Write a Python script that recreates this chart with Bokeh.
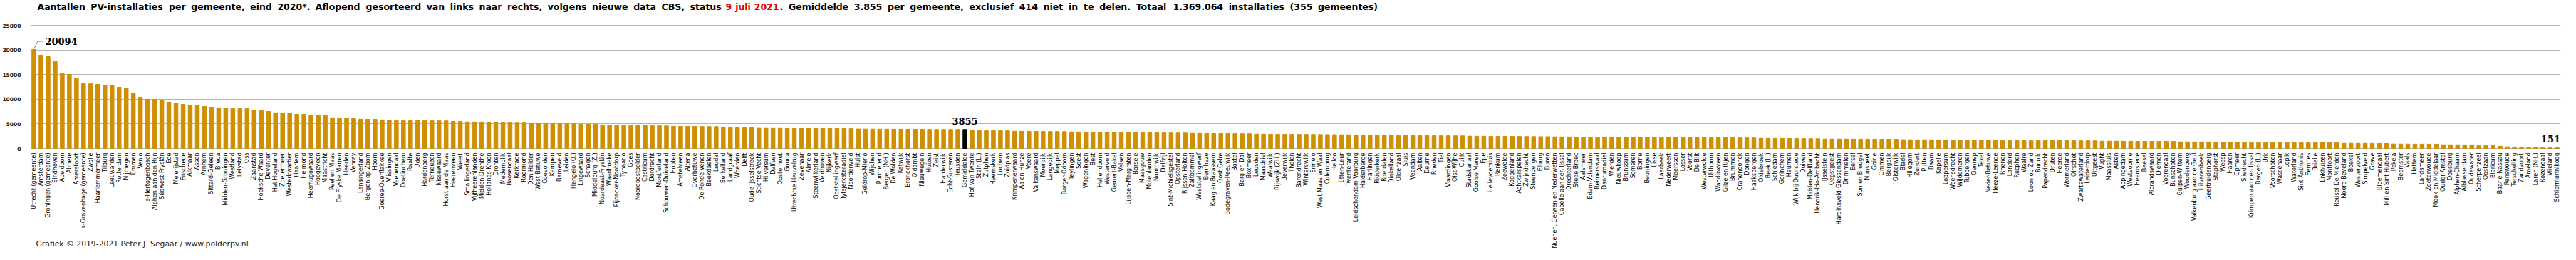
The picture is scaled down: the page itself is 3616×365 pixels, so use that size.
import math
from bokeh.plotting import figure
from bokeh.models import FactorRange, Range1d, FixedTicker, Label, ColumnDataSource
from bokeh.embed import file_html
from bokeh.resources import INLINE
from bokeh.core.properties import value

names = [
    "Utrecht (gemeente)", "Amsterdam", "Groningen (gemeente)", "Eindhoven", "Apeldoorn", "Almere",
    "Amersfoort", "'s-Gravenhage (gemeente)", "Zwolle", "Haarlemmermeer", "Tilburg", "Leeuwarden",
    "Rotterdam", "Nijmegen", "Emmen", "Venlo", "'s-Hertogenbosch", "Alphen aan den Rijn",
    "Súdwest-Fryslân", "Ede", "Meierijstad", "Enschede", "Alkmaar", "Assen", "Arnhem",
    "Sittard-Geleen", "Breda", "Midden-Groningen", "Westland", "Lelystad", "Oss", "Zaanstad",
    "Hoeksche Waard", "Deventer", "Het Hogeland", "Zoetermeer", "Westerkwartier", "Haarlem",
    "Helmond", "Heerhugowaard", "Hoogeveen", "Maastricht", "Peel en Maas", "De Fryske Marren",
    "Heerlen", "Venray", "Lansingerland", "Bergen op Zoom", "Hoorn", "Goeree-Overflakkee",
    "Vlissingen", "Veenendaal", "Doetinchem", "Raalte", "Uden", "Hardenberg", "Terneuzen",
    "Nissewaard", "Horst aan de Maas", "Heerenveen", "Weert", "Smallingerland", "Vijfheerenlanden",
    "Midden-Drenthe", "Hollands Kroon", "Dronten", "Medemblik", "Roosendaal", "Kerkrade",
    "Roermond", "Den Helder", "West Betuwe", "Coevorden", "Kampen", "Barneveld", "Leiden",
    "Hengelo (O.)", "Lingewaard", "Schagen", "Middelburg (Z.)", "Noardeast-Fryslân", "Waadhoeke",
    "Pijnacker-Nootdorp", "Tynaarlo", "Goes", "Noordoostpolder", "Castricum", "Dordrecht",
    "Montferland", "Schouwen-Duiveland", "Houten", "Amstelveen", "Altena", "Overbetuwe",
    "De Ronde Venen", "Beekdaelen", "Leudal", "Berkelland", "Landgraaf", "Woerden", "Delft",
    "Oude IJsselstreek", "Stichtse Vecht", "Hilversum", "Dalfsen", "Oosterhout", "Gouda",
    "Utrechtse Heuvelrug", "Zevenaar", "Almelo", "Steenwijkerland", "Veldhoven", "Nijkerk",
    "Ooststellingwerf", "Tytsjerksteradiel", "Noordenveld", "Hulst", "Geldrop-Mierlo", "Wijchen",
    "Purmerend", "Bergen (NH.)", "De Wolden", "Katwijk", "Bronckhorst", "Oldambt", "Nieuwegein",
    "Huizen", "Zeist", "Harderwijk", "Echt-Susteren", "Heusden", "Gemiddelde", "Hof van Twente",
    "Stein (L.)", "Zutphen", "Heemskerk", "Lochem", "Zuidplas", "Krimpenerwaard", "Aa en Hunze",
    "Veere", "Valkenswaard", "Moerdijk", "Langedijk", "Meppel", "Borger-Odoorn", "Teylingen",
    "Soest", "Wageningen", "Best", "Hellendoorn", "Westerveld", "Gemert-Bakel", "Velsen",
    "Eijsden-Margraten", "Borsele", "Maasgouw", "Molenlanden", "Noordwijk", "Delfzijl",
    "Sint-Michielsgestel", "Opsterland", "Rijssen-Holten", "Zaltbommel", "Weststellingwerf",
    "Bernheze", "Kaag en Braassem", "Oost Gelre", "Bodegraven-Reeuwijk", "Boxtel", "Berg en Dal",
    "Boxmeer", "Leusden", "Maasdriel", "Waalwijk", "Rijswijk (ZH.)", "Beverwijk", "Tholen",
    "Barendrecht", "Winterswijk", "Ermelo", "West Maas en Waal", "Culemborg", "Heiloo",
    "Etten-Leur", "Twenterand", "Leidschendam-Voorburg", "Halderberge", "Harlingen", "Ridderkerk",
    "Roerdalen", "Dinkelland", "Oldenzaal", "Sluis", "Veendam", "Aalten", "Deurne", "Rheden",
    "Tiel", "Vlaardingen", "Olst-Wijhe", "Cuijk", "Stadskanaal", "Gooise Meren", "Epe",
    "Hellevoetsluis", "Renkum", "Zeewolde", "Koggenland", "Achtkarspelen", "Zwijndrecht",
    "Steenbergen", "Elburg", "Buren", "Nuenen, Gerwen en Nederwetten", "Capelle aan den IJssel",
    "Drechterland", "Stede Broec", "Aalsmeer", "Edam-Volendam", "Reimerswaal", "Dantumadiel",
    "Wierden", "Nieuwkoop", "Brunssum", "Someren", "Borne", "Beuningen", "Lisse", "Laarbeek",
    "Nederweert", "Meerssen", "Losser", "Voorst", "De Bilt", "Westerwolde", "Uithoorn",
    "Waddinxveen", "Gilze en Rijen", "Brummen", "Cranendonck", "Dongen", "Haaksbergen",
    "Oldebroek", "Beek (L.)", "Schiedam", "Gorinchem", "Heumen", "Wijk bij Duurstede", "Duiven",
    "Midden-Delfland", "Hendrik-Ido-Ambacht", "IJsselstein", "Oegstgeest",
    "Hardinxveld-Giessendam", "Drimmelen", "Eersel", "Son en Breugel", "Nunspeet", "Goirle",
    "Ommen", "Bergeijk", "Oisterwijk", "Bladel", "Hillegom", "Zundert", "Putten", "Baarn",
    "Kapelle", "Loppersum", "Woensdrecht", "Wijdemeren", "Tubbergen", "Gennep", "Texel",
    "Neder-Betuwe", "Heeze-Leende", "Rhenen", "Landerd", "Rucphen", "Waalre", "Loon op Zand",
    "Bunnik", "Papendrecht", "Druten", "Heerde", "Wormerland", "Oirschot", "Zwartewaterland",
    "Leiderdorp", "Uitgeest", "Vught", "Maassluis", "Asten", "Appingedam", "Westvoorne",
    "Heemstede", "Beesel", "Albrandswaard", "Diemen", "Voerendaal", "Bunschoten", "Gulpen-Wittem",
    "Woudenberg", "Valkenburg aan de Geul", "Hilvarenbeek", "Geertruidenberg", "Staphorst",
    "Weesp", "Haaren", "Opmeer", "Sliedrecht", "Krimpen aan den IJssel", "Bergen (L.)", "Urk",
    "Voorschoten", "Wassenaar", "Lopik", "Waterland", "Sint Anthonis", "Eemnes", "Brielle",
    "Enkhuizen", "Montfoort", "Reusel-De Mierden", "Noord-Beveland", "Boekel", "Westervoort",
    "Simpelveld", "Grave", "Bloemendaal", "Mill en Sint Hubert", "Pekela", "Beemster", "Vaals",
    "Hattem", "Landsmeer", "Zoeterwoude", "Mook en Middelaar", "Ouder-Amstel", "Doesburg",
    "Alphen-Chaam", "Alblasserdam", "Oudewater", "Scherpenzeel", "Oostzaan", "Blaricum",
    "Baarle-Nassau", "Renswoude", "Terschelling", "Zandvoort", "Ameland", "Laren (NH.)",
    "Rozendaal", "Vlieland", "Schiermonnikoog",
]

counts = [
    20094, 18930, 18640, 17630, 15170, 15030, 14300, 13180, 13130, 13005, 12860, 12716,
    12427, 12280, 11130, 10400, 9990, 9960, 9826, 9390, 9250, 8960, 8815, 8670, 8525,
    8380, 8260, 8230, 8120, 8100, 8080, 7800, 7660, 7515, 7250, 7230, 7210, 6950,
    6930, 6800, 6780, 6650, 6230, 6210, 6190, 6070, 5950, 5930, 5910, 5790,
    5770, 5670, 5660, 5650, 5640, 5630, 5620, 5610, 5600, 5500, 5480, 5390, 5380,
    5370, 5360, 5350, 5340, 5330, 5320, 5310, 5220, 5200, 5180, 5080, 5070, 5060,
    5050, 4930, 4910, 4900, 4780, 4760, 4660, 4650, 4640, 4630, 4620, 4610,
    4600, 4590, 4500, 4490, 4480, 4470, 4460, 4450, 4440, 4360, 4350, 4340, 4330,
    4320, 4240, 4230, 4220, 4210, 4200, 4190, 4180, 4170, 4160, 4150, 4140,
    4070, 4050, 4030, 3960, 3950, 3940, 3930, 3920, 3910, 3900, 3895, 3890, 3885,
    3880, 3875, 3870, 3865, 3860, 3855, 3640, 3630, 3620, 3610, 3600, 3590, 3500, 3490,
    3480, 3470, 3460, 3450, 3440, 3430, 3350, 3340, 3330, 3320, 3310, 3300, 3290, 3280,
    3210, 3200, 3190, 3180, 3170, 3160, 3150, 3140, 3130, 3070, 3060,
    3050, 3040, 3030, 3020, 3010, 3000, 2990, 2930, 2920, 2910, 2900, 2890, 2880,
    2870, 2860, 2850, 2840, 2830, 2820, 2780, 2770, 2760, 2750, 2740, 2730,
    2720, 2710, 2640, 2630, 2620, 2610, 2600, 2590, 2580, 2570, 2560, 2550, 2500, 2490, 2480,
    2470, 2460, 2450, 2440, 2430, 2420, 2410, 2400, 2390, 2350, 2340,
    2330, 2320, 2310, 2300, 2290, 2285, 2280, 2275, 2270, 2265, 2260, 2255, 2250, 2200,
    2195, 2190, 2185, 2180, 2175, 2170, 2165, 2160, 2155, 2150, 2145, 2140, 2135,
    2060, 2050, 2040, 2030, 2020, 2010, 2000, 1990, 1980, 1920, 1915,
    1910, 1905, 1900, 1895, 1890, 1885, 1880, 1875, 1870, 1780, 1775, 1770, 1765, 1760,
    1755, 1750, 1745, 1740, 1735, 1730, 1725, 1720, 1630, 1625, 1620, 1615, 1610, 1605,
    1600, 1595, 1590, 1585, 1580, 1575, 1570, 1565, 1560, 1480, 1475, 1470, 1465, 1460,
    1455, 1450, 1445, 1440, 1435, 1430, 1340, 1335, 1330, 1325, 1320, 1315,
    1310, 1305, 1300, 1295, 1200, 1195, 1190, 1185, 1180, 1175, 1170, 1165, 1160, 1155,
    1150, 1145, 1140, 1050, 1045, 1040, 1035, 1030, 1025, 1020, 910, 905, 900,
    895, 890, 885, 880, 760, 755, 750, 745, 740, 620, 610, 600,
    460, 320, 310, 300, 290, 200, 190, 160, 151,
]

y_ticks = [0, 5000, 10000, 15000, 20000, 25000]
title_part1 = "Aantallen PV-installaties per gemeente, eind 2020*. Aflopend gesorteerd van links naar rechts, volgens nieuwe data CBS, status"
title_part2 = "9 juli 2021"
title_part3 = ". Gemiddelde 3.855 per gemeente, exclusief 414 niet in te delen. Totaal 1.369.064 installaties (355 gemeentes)"
footer = "Grafiek © 2019-2021 Peter J. Segaar / www.polderpv.nl"
mean_name = "Gemiddelde"

BAR = "#CF8F00"
GRID = "#B4B4B4"
colors = ["#000000" if n == mean_name else BAR for n in names]

src = ColumnDataSource(dict(name=names, count=counts, color=colors))

# Frame covers the full figure height; value axis 0..25000 maps to rows 208..35 (figure px)
H = 349
PX = 25000 / 173.0
Y0_ROW = 208
def ydat(y_rel):  # y relative to figure top -> data
    return (Y0_ROW - y_rel) * PX
def xdat(x_rel):  # x relative to figure left -> synthetic categorical coord
    return (x_rel - 35) / 9.997

p = figure(x_range=FactorRange(*names, range_padding=0),
           y_range=Range1d(ydat(H), ydat(0)),
           width=3600, height=H, output_backend="svg", toolbar_location=None,
           x_axis_location=None,
           min_border_left=35, min_border_right=6, min_border_top=0, min_border_bottom=0)
p.styles = {"outline": "1px solid #BEBEBE"}
p.vbar(x="name", top="count", width=0.55, color="color", source=src)

p.outline_line_color = None
p.xgrid.grid_line_color = None
p.ygrid.grid_line_color = GRID
p.ygrid.ticker = FixedTicker(ticks=y_ticks)
p.yaxis.ticker = FixedTicker(ticks=y_ticks)
p.yaxis.axis_line_color = None
p.yaxis.major_tick_line_color = None
p.yaxis.minor_tick_line_color = None
p.yaxis.major_label_standoff = 7
p.yaxis.major_label_text_font = "DejaVu Sans"
p.yaxis.major_label_text_font_style = "bold"
p.yaxis.major_label_text_font_size = "7.5px"
p.yaxis.major_label_text_color = "#1a1a1a"

# category labels, vertical, hanging below the baseline
p.text(x="name", y=0, text="name", source=src, angle=math.pi / 2, y_offset=6,
       text_align="right", text_baseline="middle", text_font=value("DejaVu Sans"),
       text_font_size="8px", text_color="#000000")

# --- title, laid out word by word (wide word spacing as in the original) ---
EM = {" ": .348, "A": .774, "B": .762, "C": .734, "G": .821, "P": .733, "S": .720, "T": .682,
      "V": .774, "a": .675, "b": .716, "c": .593, "d": .716, "e": .678, "f": .435, "g": .716,
      "h": .712, "i": .343, "j": .343, "k": .665, "l": .343, "m": 1.042, "n": .712, "o": .687,
      "p": .716, "r": .493, "s": .595, "t": .478, "u": .712, "v": .652, "w": .924, "x": .645,
      "z": .582, ".": .380, ",": .380, "*": .500, "(": .457, ")": .457, "-": .415}
def text_w(s, size):
    return sum(EM.get(c, .696) for c in s) * size

TSIZE = 12.5
TY = ydat(9)
FONT = "DejaVu Sans"
def place_words(text, color, x0_abs, x1_abs):
    words = text.split()
    widths = [text_w(w, TSIZE) for w in words]
    gap = (x1_abs - x0_abs - sum(widths)) / max(len(words) - 1, 1)
    x = x0_abs
    for w, wd in zip(words, widths):
        p.add_layout(Label(x=xdat(x - 8), y=TY, text=w, text_align="left", text_baseline="middle",
                           text_font=FONT, text_font_style="bold", text_font_size=f"{TSIZE}px",
                           text_color=color))
        x += wd + gap

place_words(title_part1, "#000000", 53, 1015)
place_words(title_part2, "#E00000", 1021, 1096)
place_words(title_part3, "#000000", 1097, 1938)

p.add_layout(Label(x=xdat(43), y=ydat(342), text=footer, text_align="left", text_baseline="middle",
                   text_font=FONT, text_font_size="10.8px", text_color="#1a1a1a"))

# annotations: max, mean, min
imax = 0
imean = names.index(mean_name)
imin = len(names) - 1
p.line(x=[imax + 0.53, imax + 1.03, imax + 1.8],
       y=[counts[imax] + 150, counts[imax] + 1650, counts[imax] + 1650],
       line_color="#808080", line_width=1)
SERIF = "DejaVu Serif"
p.add_layout(Label(x=imax + 2.1, y=counts[imax] + 1600, text=str(counts[imax]), text_align="left",
                   text_baseline="middle", text_font=SERIF, text_font_style="bold",
                   text_font_size="13px", text_color="#000000"))
p.add_layout(Label(x=imean + 0.5, y=counts[imean] + 1780, text=str(counts[imean]), text_align="center",
                   text_baseline="middle", text_font=SERIF, text_font_style="bold",
                   text_font_size="13px", text_color="#000000"))
p.add_layout(Label(x=imin + 0.95, y=counts[imin] + 1870, text=str(counts[imin]), text_align="right",
                   text_baseline="middle", text_font=SERIF, text_font_style="bold",
                   text_font_size="13px", text_color="#000000"))

open("out.html", "w").write(file_html(p, INLINE))
